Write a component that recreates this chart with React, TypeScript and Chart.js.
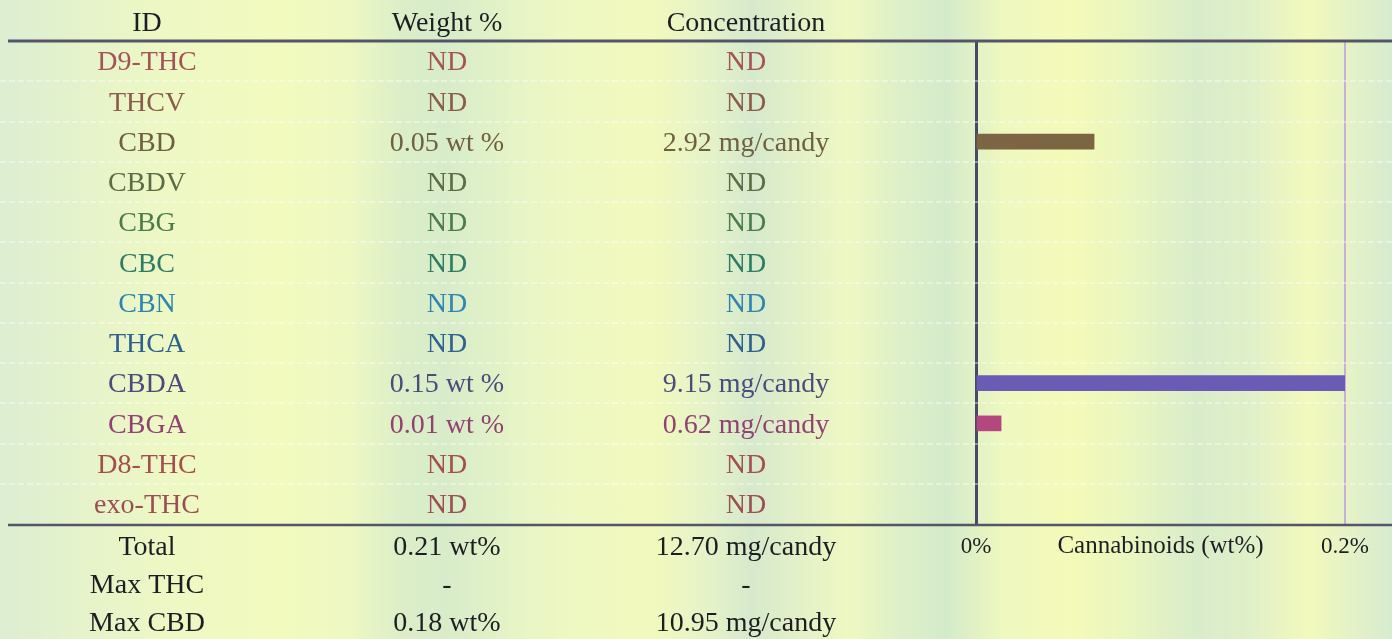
import React, { useEffect, useRef } from 'react';
import { Chart, registerables } from 'chart.js';

Chart.register(...registerables);

// ---- Data ----
const analytes = ['D9-THC', 'THCV', 'CBD', 'CBDV', 'CBG', 'CBC', 'CBN', 'THCA', 'CBDA', 'CBGA', 'D8-THC', 'exo-THC'];
const weightLabels = ['ND', 'ND', '0.05 wt %', 'ND', 'ND', 'ND', 'ND', 'ND', '0.15 wt %', '0.01 wt %', 'ND', 'ND'];
const concentrationLabels = ['ND', 'ND', '2.92 mg/candy', 'ND', 'ND', 'ND', 'ND', 'ND', '9.15 mg/candy', '0.62 mg/candy', 'ND', 'ND'];
const barValues = [null, null, 0.048, null, null, null, null, null, 0.15, 0.0102, null, null];
const rowColors = ['#a45456', '#8a5c4a', '#6e6040', '#5c6c44', '#4c7c4c', '#2e7c64', '#3084b0', '#2e6090', '#4c4c7c', '#924272', '#a44e4e', '#9c4e54'];
const barColors = ['#a24f50', '#8a5a48', '#7d6544', '#5a6a40', '#4a7a4a', '#2a7a60', '#2a80ae', '#2a5d8e', '#6a5cb4', '#b4487e', '#a04a4a', '#9a4a50'];
const headerLabels = ['ID', 'Weight %', 'Concentration'];
const summaryLabels = ['Total', 'Max THC', 'Max CBD'];
const summaryWeight = ['0.21 wt%', '-', '0.18 wt%'];
const summaryConcentration = ['12.70 mg/candy', '-', '10.95 mg/candy'];
const xTickValues = [0, 0.15];
const xAxisTitle = 'Cannabinoids (wt%)';

const W = 1392;
const H = 639;
const COL_X = [147, 447, 746];
const SERIF = '"Liberation Serif", "Times New Roman", serif';
const TABLE_FONT = `28px ${SERIF}`;
const AXIS_TITLE_FONT = `25px ${SERIF}`;

const tablePlugin = {
  id: 'tablePlugin',
  beforeDatasetsDraw(chart: any) {
    const { ctx } = chart;
    const y = chart.scales.y;
    ctx.save();
    ctx.strokeStyle = 'rgba(255,255,255,0.5)';
    ctx.lineWidth = 1.5;
    ctx.setLineDash([6, 3]);
    for (let i = 0; i < analytes.length - 1; i++) {
      const yy = Math.round((y.getPixelForValue(i) + y.getPixelForValue(i + 1)) / 2);
      ctx.beginPath();
      ctx.moveTo(0, yy);
      ctx.lineTo(W, yy);
      ctx.stroke();
    }
    ctx.restore();
  },
  afterDraw(chart: any) {
    const { ctx, chartArea } = chart;
    const y = chart.scales.y;
    const x = chart.scales.x;
    ctx.save();
    // header and bottom rules
    ctx.strokeStyle = '#55546a';
    ctx.lineWidth = 3;
    ctx.beginPath();
    ctx.moveTo(8, chartArea.top);
    ctx.lineTo(W, chartArea.top);
    ctx.stroke();
    ctx.lineWidth = 2.5;
    ctx.beginPath();
    ctx.moveTo(8, chartArea.bottom + 1);
    ctx.lineTo(W, chartArea.bottom + 1);
    ctx.stroke();

    ctx.textAlign = 'center';
    ctx.textBaseline = 'alphabetic';
    ctx.font = TABLE_FONT;
    const capHalf = 9.3;
    // header
    ctx.fillStyle = '#1e1e22';
    headerLabels.forEach((t, i) => ctx.fillText(t, COL_X[i], 22 + capHalf));
    // rows
    analytes.forEach((a, i) => {
      const yy = y.getPixelForValue(i) + capHalf;
      ctx.fillStyle = rowColors[i];
      ctx.fillText(a, COL_X[0], yy);
      ctx.fillText(weightLabels[i], COL_X[1], yy);
      ctx.fillText(concentrationLabels[i], COL_X[2], yy);
    });
    // summary
    ctx.fillStyle = '#1e1e22';
    summaryLabels.forEach((s, i) => {
      const yy = chartArea.bottom + 22 + i * 38 + capHalf;
      ctx.fillText(s, COL_X[0], yy);
      ctx.fillText(summaryWeight[i], COL_X[1], yy);
      ctx.fillText(summaryConcentration[i], COL_X[2], yy);
    });
    // axis title
    ctx.font = AXIS_TITLE_FONT;
    ctx.fillStyle = '#1e1e22';
    ctx.fillText(xAxisTitle, (x.left + x.right) / 2 - 0, chartArea.bottom + 21 + 8.3);
    ctx.restore();
  },
};

export default function App() {
  const ref = useRef<HTMLCanvasElement | null>(null);
  useEffect(() => {
    if (!ref.current) return;
    const chart = new Chart(ref.current, {
      type: 'bar',
      data: {
        labels: analytes,
        datasets: [
          {
            data: barValues as any,
            backgroundColor: barColors,
            barThickness: 15,
            borderWidth: 0,
          },
        ],
      },
      options: {
        indexAxis: 'y',
        animation: false,
        responsive: false,
        layout: { padding: { left: 976, right: 47, top: 41, bottom: 0 } },
        plugins: { legend: { display: false }, tooltip: { enabled: false } },
        scales: {
          x: {
            type: 'linear',
            min: 0,
            max: 0.15,
            afterBuildTicks: (scale: any) => {
              scale.ticks = xTickValues.map((v) => ({ value: v }));
            },
            afterFit: (scale: any) => {
              scale.height = H - 524;
            },
            ticks: {
              autoSkip: false,
              maxRotation: 0,
              padding: 9,
              color: '#1e1e22',
              font: { family: SERIF, size: 23 },
              callback: (v: any) => `${Math.round(Number(v) * 10) / 10}%`,
            },
            grid: {
              drawTicks: false,
              lineWidth: 2,
              color: (c: any) => (c.tick && c.tick.value === 0 ? 'rgba(0,0,0,0)' : '#c2b2da'),
            },
            border: { display: false },
          },
          y: {
            type: 'category',
            afterFit: (scale: any) => {
              scale.width = 0;
            },
            ticks: { display: false },
            grid: { display: false, drawTicks: false },
            border: { display: true, color: '#4a4868', width: 3 },
          },
        },
      },
      plugins: [tablePlugin],
    });
    return () => chart.destroy();
  }, []);

  const bg =
    'linear-gradient(90deg, #dcedd2 0%, #e4f2cc 5%, #eef8c4 12%, #f2fabe 20%, #eef8c2 25%, #dbeec8 29%, #d8ecca 32%, #e6f4c6 37%, #eef8c2 41%, #f2f9be 47%, #e4f2c8 51%, #d6e9cc 54%, #e2f0c8 57%, #eef8c2 61%, #dcefc8 65%, #d4eaca 68%, #eef8c0 72%, #f4fab8 77%, #eaf6c0 81%, #d9ecca 86%, #e0f0c8 90%, #f3f9bc 94%, #d6ebd0 100%)';

  return (
    <div style={{ position: 'absolute', left: 0, top: 0, width: W, height: H, background: bg, overflow: 'hidden' }}>
      <canvas ref={ref} width={W} height={H} style={{ display: 'block', width: W, height: H }} />
    </div>
  );
}
